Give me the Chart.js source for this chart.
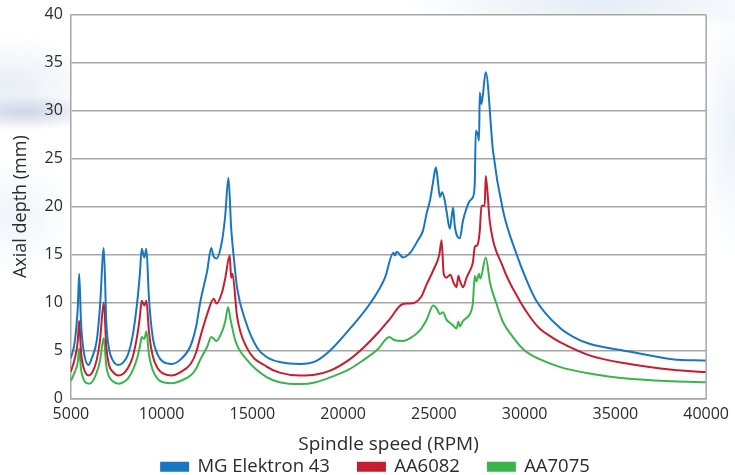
<!DOCTYPE html>
<html>
<head>
<meta charset="utf-8">
<script src="https://cdn.jsdelivr.net/npm/chart.js@4"></script>
<style>
  html, body { margin: 0; padding: 0; }
  body {
    width: 735px; height: 475px; overflow: hidden;
    background:
      radial-gradient(ellipse 80px 18px at 25px 112px, rgba(160,172,210,0.45), rgba(160,172,210,0) 100%),
      radial-gradient(ellipse 90px 50px at 10px 85px, rgba(205,216,234,0.45), rgba(205,216,234,0) 100%),
      radial-gradient(ellipse 60px 60px at 15px 215px, rgba(215,228,242,0.4), rgba(215,228,242,0) 100%),
      radial-gradient(ellipse 200px 30px at 600px 5px, rgba(205,220,238,0.55), rgba(205,220,238,0) 100%),
      radial-gradient(ellipse 40px 130px at 735px 130px, rgba(215,228,242,0.5), rgba(215,228,242,0) 100%),
      #ffffff;
  }
  canvas { display: block; }
</style>
</head>
<body>
<canvas id="lobeChart" width="735" height="475"></canvas>
<script>
// Spindle speed (RPM) / axial depth (mm)
const rpmElektron = [5000, 5220, 5380, 5456, 5560, 5700, 5973, 6150, 6420, 6600, 6813, 6950, 7100, 7300, 7621,
  7900, 8150, 8400, 8650, 8800, 8901, 9049, 9159, 9300, 9500, 9800, 10100, 10550, 11000, 11593, 11900, 12143,
  12510, 12731, 12860, 13022, 13333, 13500, 13681, 13830, 13975, 14159, 14615, 15258, 15808, 16500, 17637,
  18500, 19286, 20385, 21484, 22308, 22764, 22850, 22950, 23297, 23700, 24121, 24400, 24599, 24780, 24950,
  25110, 25200, 25330, 25450, 25604, 25700, 25879, 26060, 26150, 26429, 26600, 26758, 26978, 27150, 27253,
  27308, 27420, 27489, 27527, 27621, 27857, 28258, 28808, 29544, 30050, 30643, 31923, 32700, 33571, 35769,
  38132, 40000];
const mgElektron43 = [4.2, 6.0, 9.5, 13.0, 7.8, 5.0, 3.5, 4.2, 6.0, 9.5, 15.7, 8.0, 5.2, 4.0, 3.5,
  3.8, 4.6, 6.5, 10.0, 13.0, 15.6, 14.7, 15.6, 10.5, 6.5, 4.5, 3.8, 3.6, 4.0, 5.5, 7.5, 10.2,
  13.3, 15.7, 14.8, 14.6, 16.5, 19.0, 23.0, 17.8, 14.7, 11.5, 8.1, 5.3, 4.3, 3.8, 3.6,
  3.9, 5.0, 7.3, 9.9, 12.6, 15.2, 14.9, 15.3, 14.7, 15.2, 16.5, 17.5, 19.3, 20.6, 22.5,
  24.1, 23.0, 21.0, 21.5, 20.6, 19.5, 17.7, 19.9, 18.0, 16.7, 18.5, 19.6, 20.6, 21.0, 22.5,
  27.9, 27.5, 26.9, 31.9, 30.7, 34.0, 25.8, 19.6, 15.1, 12.6, 10.2, 7.4, 6.4, 5.7, 4.9,
  4.1, 3.95];

const rpmAA6082 = [5000, 5220, 5380, 5456, 5560, 5700, 5990, 6200, 6420, 6600, 6813, 6950, 7100, 7300, 7640,
  7900, 8150, 8400, 8650, 8800, 8901, 9049, 9159, 9300, 9500, 9800, 10100, 10550, 11000, 11593, 11900, 12143,
  12510, 12870, 13022, 13333, 13500, 13750, 13830, 13900, 14159, 14690, 15808, 16500, 17637, 18500, 19286,
  20300, 21115, 21900, 22580, 23230, 23600, 23956, 24300, 24599, 25000, 25300, 25423, 25540, 25700, 25900,
  26100, 26247, 26350, 26429, 26610, 26800, 26978, 27150, 27253, 27400, 27530, 27621, 27800, 27857, 28077,
  28808, 29725, 30300, 30824, 31400, 31923, 33571, 35769, 38132, 40000];
const aa6082 = [2.8, 4.2, 6.0, 8.1, 4.8, 3.2, 2.4, 2.8, 4.0, 6.0, 10.0, 5.4, 3.5, 2.8, 2.4,
  2.6, 3.2, 4.3, 6.5, 8.5, 10.2, 9.7, 10.2, 7.0, 4.5, 3.1, 2.6, 2.4, 2.7, 3.6, 4.8, 6.5,
  8.8, 10.4, 9.9, 11.1, 12.5, 14.9, 12.6, 13.0, 8.5, 5.3, 3.3, 2.7, 2.4, 2.5, 2.9,
  4.0, 5.3, 6.8, 8.3, 9.8, 9.9, 10.0, 10.6, 11.9, 13.5, 15.0, 16.5, 13.0, 12.6, 12.9,
  12.0, 11.6, 12.8, 12.3, 11.6, 12.6, 13.3, 14.2, 15.8, 16.0, 17.5, 20.1, 20.1, 23.2, 18.5,
  13.7, 10.2, 8.5, 7.3, 6.5, 5.9, 4.5, 3.6, 3.0, 2.75];

const rpmAA7075 = [5000, 5220, 5380, 5456, 5560, 5700, 5990, 6200, 6420, 6600, 6813, 6950, 7100, 7300, 7640,
  7900, 8150, 8400, 8650, 8800, 8901, 9049, 9159, 9300, 9500, 9800, 10100, 10550, 11000, 11593, 11900, 12143,
  12510, 12731, 13022, 13333, 13500, 13660, 13800, 14066, 14709, 15808, 16500, 17637, 18500, 19286,
  20300, 21115, 21900, 22544, 22800, 23297, 23700, 24230, 24600, 24962, 25150, 25330, 25500, 25700, 25960,
  26247, 26350, 26429, 26610, 26800, 26978, 27150, 27253, 27350, 27489, 27560, 27857, 28100, 28446, 28800,
  29357, 30000, 30824, 31923, 33571, 35769, 38132, 40000];
const aa7075 = [1.8, 2.8, 3.8, 5.2, 3.0, 2.0, 1.55, 1.8, 2.7, 3.9, 6.3, 3.4, 2.3, 1.8, 1.55,
  1.7, 2.1, 2.9, 4.2, 5.4, 6.4, 6.2, 7.0, 4.6, 3.0, 2.0, 1.7, 1.6, 1.8, 2.4, 3.1, 4.1,
  5.4, 6.4, 6.0, 7.0, 8.0, 9.5, 8.2, 6.0, 4.0, 2.2, 1.7, 1.5, 1.7, 2.2,
  3.0, 4.0, 5.1, 6.4, 6.1, 6.0, 6.3, 7.1, 8.2, 9.7, 9.4, 8.8, 9.0, 8.2, 7.8,
  7.3, 8.0, 7.5, 8.1, 8.4, 8.8, 10.0, 12.8, 12.2, 13.0, 12.5, 14.7, 12.0, 9.9, 8.0,
  6.4, 5.0, 4.1, 3.3, 2.6, 2.05, 1.8, 1.7];

const xTicks = [5000, 10000, 15000, 20000, 25000, 30000, 35000, 40000];
const yTicks = [0, 5, 10, 15, 20, 25, 30, 35, 40];

function toPoints(xs, ys) {
  return xs.map((x, i) => ({ x: x, y: ys[i] }));
}

// white plot area over the decorated page, plus the right frame line
const plotFrame = {
  id: 'plotFrame',
  afterLayout(chart) {
    // legend in the original sits a little right of centre
    chart.legend.left += 6;
    chart.legend.right += 6;
  },
  beforeDraw(chart) {
    const a = chart.chartArea;
    const ctx = chart.ctx;
    ctx.save();
    ctx.fillStyle = '#ffffff';
    ctx.fillRect(a.left, a.top, a.right - a.left, a.bottom - a.top);
    ctx.restore();
  },
  afterDatasetsDraw(chart) {
    const a = chart.chartArea;
    const ctx = chart.ctx;
    ctx.save();
    ctx.strokeStyle = '#a6a6a6';
    ctx.lineWidth = 1.5;
    ctx.beginPath();
    ctx.moveTo(a.right, a.top);
    ctx.lineTo(a.right, a.bottom);
    ctx.stroke();
    ctx.restore();
  }
};

const fontFamily = '"Open Sans", "Noto Sans", sans-serif';
const textColor = '#2b2b2b';

const ctx = document.getElementById('lobeChart').getContext('2d');
new Chart(ctx, {
  type: 'line',
  data: {
    datasets: [
      {
        label: 'MG Elektron 43',
        data: toPoints(rpmElektron, mgElektron43),
        borderColor: 'rgb(24, 118, 192)',
        backgroundColor: 'rgb(24, 118, 192)'
      },
      {
        label: 'AA6082',
        data: toPoints(rpmAA6082, aa6082),
        borderColor: 'rgb(196, 30, 48)',
        backgroundColor: 'rgb(196, 30, 48)'
      },
      {
        label: 'AA7075',
        data: toPoints(rpmAA7075, aa7075),
        borderColor: 'rgb(58, 180, 74)',
        backgroundColor: 'rgb(58, 180, 74)'
      }
    ]
  },
  options: {
    responsive: false,
    animation: false,
    devicePixelRatio: 1,
    layout: { padding: { top: -2, right: 6, left: 10, bottom: -11 } },
    elements: {
      point: { radius: 0 },
      line: { borderWidth: 2, cubicInterpolationMode: 'monotone' }
    },
    plugins: {
      legend: {
        position: 'bottom',
        labels: {
          boxWidth: 27,
          boxHeight: 8,
          padding: 28,
          color: textColor,
          font: { family: fontFamily, size: 18.5 }
        }
      },
      tooltip: { enabled: false }
    },
    scales: {
      x: {
        type: 'linear',
        min: 5000,
        max: 40000,
        afterBuildTicks: axis => { axis.ticks = xTicks.map(v => ({ value: v })); },
        grid: { display: false, drawTicks: false },
        border: { color: '#a6a6a6', width: 1.5 },
        ticks: {
          color: textColor,
          padding: 6,
          maxRotation: 0,
          font: { family: fontFamily, size: 16 },
          callback: v => String(v)
        },
        title: {
          display: true,
          text: 'Spindle speed (RPM)',
          color: textColor,
          padding: { top: 3, bottom: -26 },
          font: { family: fontFamily, size: 19 }
        }
      },
      y: {
        min: 0,
        max: 40,
        afterBuildTicks: axis => { axis.ticks = yTicks.map(v => ({ value: v })); },
        grid: { color: '#a6a6a6', lineWidth: 1.5, drawTicks: false },
        border: { color: '#a6a6a6', width: 1.5 },
        ticks: {
          color: textColor,
          padding: 8,
          font: { family: fontFamily, size: 16, lineHeight: 0.85 }
        },
        title: {
          display: true,
          text: 'Axial depth (mm)',
          color: textColor,
          padding: { top: 0, bottom: 5 },
          font: { family: fontFamily, size: 18 }
        }
      }
    }
  },
  plugins: [plotFrame]
});
</script>
</body>
</html>
